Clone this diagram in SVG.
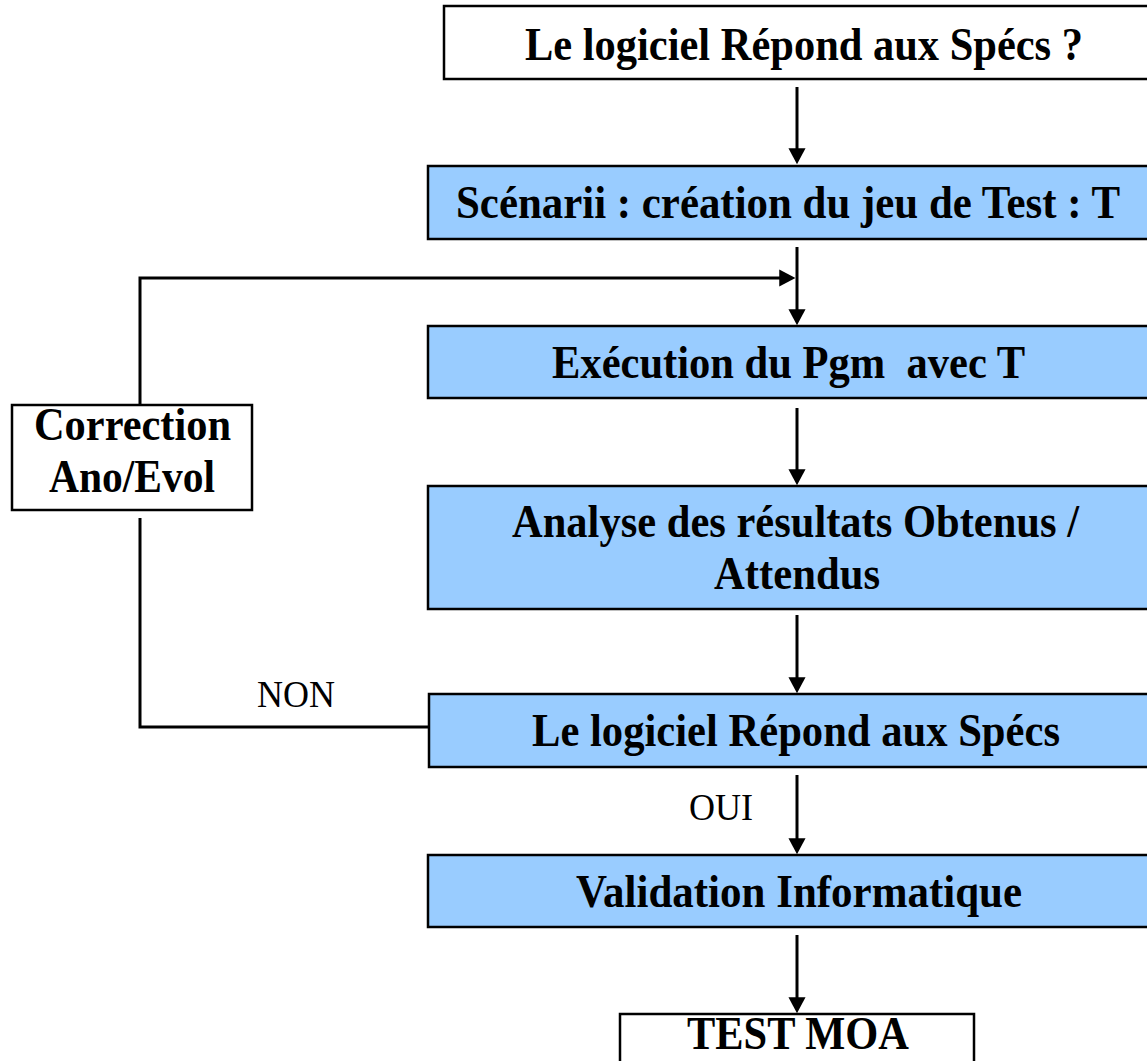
<svg xmlns="http://www.w3.org/2000/svg" width="1147" height="1061" viewBox="0 0 1147 1061">
<style>
.box{stroke:#000;stroke-width:2.5}
.blue{fill:#99CCFF}
.white{fill:#fff}
.t{font-family:"Liberation Serif","Times New Roman",serif;font-weight:bold;font-size:47px;fill:#000}
.lbl{font-family:"Liberation Serif","Times New Roman",serif;font-size:37px;fill:#000}
.c{fill:none;stroke:#000;stroke-width:3}
</style>
<defs>
<marker id="ah" markerUnits="userSpaceOnUse" markerWidth="16" markerHeight="18" viewBox="0 0 15 16" refX="11" refY="8" orient="auto">
<path d="M0,0 L15,8 L0,16 Z" fill="#000"/>
</marker>
</defs>
<rect width="1147" height="1061" fill="#fff"/>
<g id="connectors">
<line class="c" x1="797" y1="87" x2="797" y2="160" marker-end="url(#ah)"/>
<line class="c" x1="797" y1="247" x2="797" y2="321" marker-end="url(#ah)"/>
<polyline class="c" points="140,405 140,278 791,278" marker-end="url(#ah)"/>
<line class="c" x1="797" y1="408" x2="797" y2="481" marker-end="url(#ah)"/>
<line class="c" x1="797" y1="615" x2="797" y2="689" marker-end="url(#ah)"/>
<polyline class="c" points="429,727 140,727 140,518"/>
<line class="c" x1="797" y1="775" x2="797" y2="850" marker-end="url(#ah)"/>
<line class="c" x1="797" y1="935" x2="797" y2="1009" marker-end="url(#ah)"/>
<text class="lbl" x="257" y="707" textLength="78" lengthAdjust="spacingAndGlyphs">NON</text>
<text class="lbl" x="689" y="820" textLength="64" lengthAdjust="spacingAndGlyphs">OUI</text>
</g>
<g id="n1">
<rect class="box white" x="444" y="6" width="720" height="73"/>
<text class="t" x="525" y="60" textLength="558" lengthAdjust="spacingAndGlyphs">Le logiciel Répond aux Spécs ?</text>
</g>
<g id="n2">
<rect class="box blue" x="428" y="166" width="736" height="73"/>
<text class="t" x="456" y="218" textLength="664" lengthAdjust="spacingAndGlyphs">Scénarii : création du jeu de Test : T</text>
</g>
<g id="n3">
<rect class="box blue" x="428" y="326" width="736" height="72"/>
<text class="t" x="552" y="378" textLength="473" lengthAdjust="spacingAndGlyphs" xml:space="preserve">Exécution du Pgm  avec T</text>
</g>
<g id="n4">
<rect class="box blue" x="428" y="486" width="736" height="123"/>
<text class="t" x="512" y="537" textLength="567" lengthAdjust="spacingAndGlyphs">Analyse des résultats Obtenus /</text>
<text class="t" x="714" y="589" textLength="166" lengthAdjust="spacingAndGlyphs">Attendus</text>
</g>
<g id="n5">
<rect class="box blue" x="429" y="694" width="735" height="73"/>
<text class="t" x="532" y="746" textLength="528" lengthAdjust="spacingAndGlyphs">Le logiciel Répond aux Spécs</text>
</g>
<g id="n6">
<rect class="box blue" x="428" y="855" width="736" height="72"/>
<text class="t" x="576" y="907" textLength="446" lengthAdjust="spacingAndGlyphs">Validation Informatique</text>
</g>
<g id="n7">
<rect class="box white" x="620" y="1014" width="354" height="70"/>
<text class="t" x="687" y="1049" textLength="222" lengthAdjust="spacingAndGlyphs">TEST MOA</text>
</g>
<g id="n8">
<rect class="box white" x="12" y="405" width="240" height="105"/>
<text class="t" x="34" y="440" textLength="197" lengthAdjust="spacingAndGlyphs">Correction</text>
<text class="t" x="49" y="492" textLength="166" lengthAdjust="spacingAndGlyphs">Ano/Evol</text>
</g>
</svg>
